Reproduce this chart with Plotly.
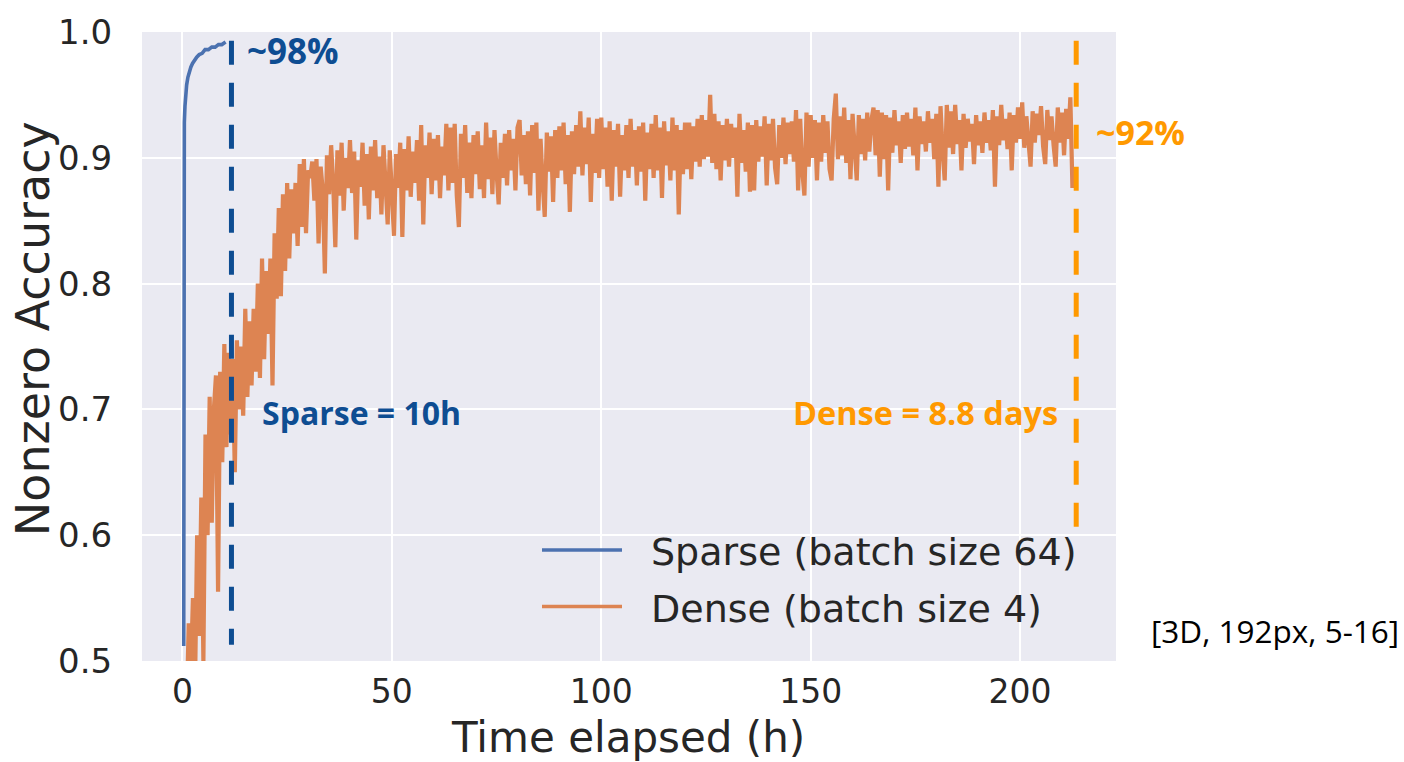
import plotly.graph_objects as go

# ---------------- data ----------------
SPARSE_T = [0.30, 0.31, 0.33, 0.36, 0.45, 0.60, 0.80, 1.00, 1.30, 1.60, 2.00, 2.40, 2.90, 3.40, 4.00, 4.70,
            5.40, 6.20, 7.00, 7.80, 8.60, 9.40, 10.30]
SPARSE_ACC = [0.512, 0.700, 0.860, 0.905, 0.928, 0.941, 0.951, 0.958, 0.964, 0.968, 0.972, 0.975, 0.978, 0.980,
              0.982, 0.983, 0.986, 0.986, 0.988, 0.988, 0.990, 0.990, 0.992]

DENSE_START_H = 1.0
DENSE_STEP_H = 0.5
DENSE_EARLY = [
    0.46, 0.53, 0.49, 0.55, 0.48, 0.60, 0.52, 0.63, 0.50, 0.68,
    0.60, 0.71, 0.61, 0.70, 0.727, 0.555, 0.73, 0.658, 0.752, 0.67,
    0.745, 0.68, 0.74, 0.65, 0.755, 0.70, 0.75, 0.695, 0.78, 0.71,
    0.77, 0.719, 0.78, 0.73, 0.80, 0.725, 0.82, 0.74, 0.81, 0.76,
    0.82, 0.719, 0.84, 0.788, 0.86, 0.79, 0.871, 0.81, 0.88, 0.82,
    0.875, 0.84, 0.88, 0.83, 0.895, 0.845, 0.899, 0.84, 0.89,
]
DENSE_MID1 = [
    0.884, 0.897, 0.866, 0.899, 0.832, 0.893, 0.874, 0.808, 0.902, 0.871,
    0.910, 0.879, 0.829, 0.906, 0.870, 0.912, 0.858, 0.900, 0.876, 0.914,
    0.872, 0.905, 0.835, 0.898, 0.877, 0.912, 0.862, 0.903, 0.851, 0.909,
    0.874, 0.914, 0.868, 0.901, 0.855, 0.910, 0.879, 0.847, 0.906, 0.873,
    0.838, 0.903, 0.876, 0.912, 0.837, 0.907, 0.874, 0.917, 0.869, 0.905,
    0.880, 0.914, 0.866, 0.926, 0.847, 0.910, 0.884, 0.920, 0.871, 0.915,
    0.882, 0.918, 0.868, 0.909, 0.886, 0.927, 0.874, 0.924, 0.880, 0.927,
    0.870, 0.845, 0.919, 0.884, 0.926, 0.872, 0.912, 0.868, 0.918, 0.887,
    0.921, 0.875, 0.910, 0.868, 0.928, 0.883, 0.916, 0.871, 0.922, 0.889,
]
DENSE_MID2 = [
    0.863, 0.912, 0.884, 0.919, 0.878, 0.922, 0.890, 0.915, 0.874, 0.924,
    0.930, 0.886, 0.918, 0.879, 0.921, 0.870, 0.926, 0.888, 0.928, 0.858,
    0.915, 0.881, 0.853, 0.920, 0.889, 0.917, 0.865, 0.922, 0.884, 0.925,
    0.890, 0.928, 0.879, 0.918, 0.857, 0.921, 0.887, 0.926, 0.893, 0.937,
    0.886, 0.924, 0.895, 0.932, 0.865, 0.919, 0.888, 0.931, 0.884, 0.932,
    0.891, 0.924, 0.877, 0.929, 0.866, 0.922, 0.893, 0.927, 0.869, 0.918,
    0.890, 0.926, 0.884, 0.931, 0.893, 0.922, 0.878, 0.925, 0.889, 0.928,
    0.866, 0.920, 0.891, 0.927, 0.884, 0.934, 0.890, 0.924, 0.868, 0.929,
    0.894, 0.921, 0.882, 0.932, 0.890, 0.926, 0.855, 0.922, 0.887, 0.928,
]
DENSE_MID3 = [
    0.891, 0.928, 0.883, 0.925, 0.897, 0.931, 0.893, 0.934, 0.899, 0.930,
    0.901, 0.950, 0.896, 0.935, 0.891, 0.929, 0.882, 0.926, 0.898, 0.931,
    0.893, 0.927, 0.900, 0.924, 0.869, 0.935, 0.896, 0.922, 0.889, 0.928,
    0.873, 0.926, 0.874, 0.930, 0.897, 0.925, 0.901, 0.933, 0.878, 0.927,
    0.898, 0.931, 0.892, 0.879, 0.926, 0.900, 0.932, 0.895, 0.928, 0.903,
    0.929, 0.897, 0.938, 0.874, 0.931, 0.889, 0.870, 0.936, 0.893, 0.934,
    0.900, 0.930, 0.882, 0.928, 0.897, 0.934, 0.904, 0.929, 0.891, 0.882,
    0.931, 0.951, 0.899, 0.933, 0.902, 0.940, 0.896, 0.930, 0.883, 0.935,
    0.900, 0.882, 0.934, 0.903, 0.931, 0.898, 0.936, 0.905, 0.930, 0.940,
    0.902, 0.938, 0.885, 0.936, 0.899, 0.934,
]
DENSE_LATE = [
    0.874, 0.932, 0.904, 0.938, 0.910, 0.929, 0.896, 0.934, 0.907, 0.936,
    0.909, 0.931, 0.902, 0.940, 0.890, 0.933, 0.911, 0.929, 0.905, 0.937,
    0.912, 0.931, 0.899, 0.935, 0.877, 0.941, 0.906, 0.882, 0.942, 0.908,
    0.937, 0.903, 0.942, 0.911, 0.930, 0.890, 0.935, 0.908, 0.931, 0.913,
    0.927, 0.895, 0.934, 0.910, 0.929, 0.904, 0.936, 0.912, 0.930, 0.906,
    0.938, 0.877, 0.933, 0.910, 0.942, 0.914, 0.931, 0.907, 0.936, 0.890,
    0.934, 0.912, 0.940, 0.915, 0.944, 0.908, 0.933, 0.916, 0.893, 0.937,
    0.912, 0.935, 0.918, 0.941, 0.909, 0.895, 0.938, 0.914, 0.933, 0.910,
    0.893, 0.940, 0.912, 0.936, 0.902, 0.939, 0.915, 0.948, 0.876,
]

SPARSE_END_H = 11.7
DENSE_END_H = 213.4
MARKER_TOP = 0.993
SPARSE_MARK_BOTTOM = 0.513
DENSE_MARK_BOTTOM = 0.605

X_TICKS = [0, 50, 100, 150, 200]
Y_TICKS = [0.5, 0.6, 0.7, 0.8, 0.9, 1.0]
Y_TICK_TEXT = ["0.5", "0.6", "0.7", "0.8", "0.9", "1.0"]

LEGEND_LABELS = ["Sparse (batch size 64)", "Dense (batch size 4)"]
# ----------------------------------------------------------------

dense_acc = DENSE_EARLY + DENSE_MID1 + DENSE_MID2 + DENSE_MID3 + DENSE_LATE
dense_t = [DENSE_START_H + DENSE_STEP_H * i for i in range(len(dense_acc))]

BLUE = "#4C72B0"
ORANGE = "#DD8452"
DARK_BLUE = "#0E4D92"
BRIGHT_ORANGE = "#FF9900"
TEXT = "#262626"

# layout geometry (pixels)
W, H = 1404, 762
PL, PR, PT, PB = 142, 1116, 26, 661


def px(x):
    return (x - PL) / (PR - PL)


def py(y):
    return (PB - y) / (PB - PT)


fig = go.Figure()
fig.add_trace(go.Scatter(x=SPARSE_T, y=SPARSE_ACC, mode="lines",
                         line=dict(color=BLUE, width=3.6), name=LEGEND_LABELS[0],
                         showlegend=False))
fig.add_trace(go.Scatter(x=dense_t, y=dense_acc, mode="lines",
                         line=dict(color=ORANGE, width=4.2), name=LEGEND_LABELS[1],
                         showlegend=False))

# dashed markers
fig.add_shape(type="line", xref="x", yref="y", x0=SPARSE_END_H, x1=SPARSE_END_H,
              y0=MARKER_TOP, y1=SPARSE_MARK_BOTTOM,
              line=dict(color=DARK_BLUE, width=5, dash="24px,18px"))
fig.add_shape(type="line", xref="x", yref="y", x0=DENSE_END_H, x1=DENSE_END_H,
              y0=MARKER_TOP, y1=DENSE_MARK_BOTTOM,
              line=dict(color=BRIGHT_ORANGE, width=5, dash="24px,18px"))

# manual legend
for i, (lab, col) in enumerate(zip(LEGEND_LABELS, [BLUE, ORANGE])):
    yy = [549, 606][i]
    fig.add_shape(type="line", xref="paper", yref="paper",
                  x0=px(542), x1=px(622), y0=py(yy), y1=py(yy),
                  line=dict(color=col, width=3.5))
    fig.add_annotation(xref="paper", yref="paper", x=px(649), y=py(yy + 2),
                       text=lab, showarrow=False, xanchor="left", yanchor="middle",
                       font=dict(family="DejaVu Sans", size=38, color=TEXT))

ann_font_b = "Open Sans"
fig.add_annotation(xref="paper", yref="paper", x=px(245), y=py(45), text="<b>~98%</b>",
                   showarrow=False, xanchor="left", yanchor="middle",
                   font=dict(family=ann_font_b, size=35, color=DARK_BLUE))
fig.add_annotation(xref="paper", yref="paper", x=px(260), y=py(410), text="<b>Sparse = 10h</b>",
                   showarrow=False, xanchor="left", yanchor="middle",
                   font=dict(family=ann_font_b, size=32, color=DARK_BLUE))
fig.add_annotation(xref="paper", yref="paper", x=px(1060), y=py(410), text="<b>Dense = 8.8 days</b>",
                   showarrow=False, xanchor="right", yanchor="middle",
                   font=dict(family=ann_font_b, size=32.5, color=BRIGHT_ORANGE))
fig.add_annotation(xref="paper", yref="paper", x=px(1094), y=py(127), text="<b>~92%</b>",
                   showarrow=False, xanchor="left", yanchor="middle",
                   font=dict(family=ann_font_b, size=34, color=BRIGHT_ORANGE))
fig.add_annotation(xref="paper", yref="paper", x=px(1401), y=py(630), text="[3D, 192px, 5-16]",
                   showarrow=False, xanchor="right", yanchor="middle",
                   font=dict(family="Open Sans", size=31.5, color="black"))

# axis titles as annotations for exact placement
fig.add_annotation(xref="paper", yref="paper", x=px(628), y=py(738), text="Time elapsed (h)",
                   showarrow=False, xanchor="center", yanchor="middle",
                   font=dict(family="DejaVu Sans", size=42, color=TEXT))
fig.add_annotation(xref="paper", yref="paper", x=px(33), y=py(326), text="Nonzero Accuracy",
                   showarrow=False, xanchor="center", yanchor="middle", textangle=-90,
                   font=dict(family="DejaVu Sans", size=46, color=TEXT))

fig.update_layout(
    width=W, height=H,
    margin=dict(l=PL, r=W - PR, t=PT, b=H - PB),
    paper_bgcolor="white",
    plot_bgcolor="#EAEAF2",
    showlegend=False,
    font=dict(family="DejaVu Sans", color=TEXT),
)
fig.update_xaxes(range=[-9.66, 222.9], tickvals=X_TICKS, showgrid=True,
                 gridcolor="white", gridwidth=1.6, zeroline=False, showline=False,
                 ticks="outside", ticklen=1, tickcolor="rgba(0,0,0,0)",
                 tickfont=dict(size=33, color=TEXT))
fig.update_yaxes(range=[0.5, 1.0], tickvals=Y_TICKS, ticktext=Y_TICK_TEXT, showgrid=True,
                 gridcolor="white", gridwidth=1.6, zeroline=False, showline=False,
                 ticks="outside", ticklen=22, tickcolor="rgba(0,0,0,0)",
                 tickfont=dict(size=34, color=TEXT))

fig.write_html("out.html")
